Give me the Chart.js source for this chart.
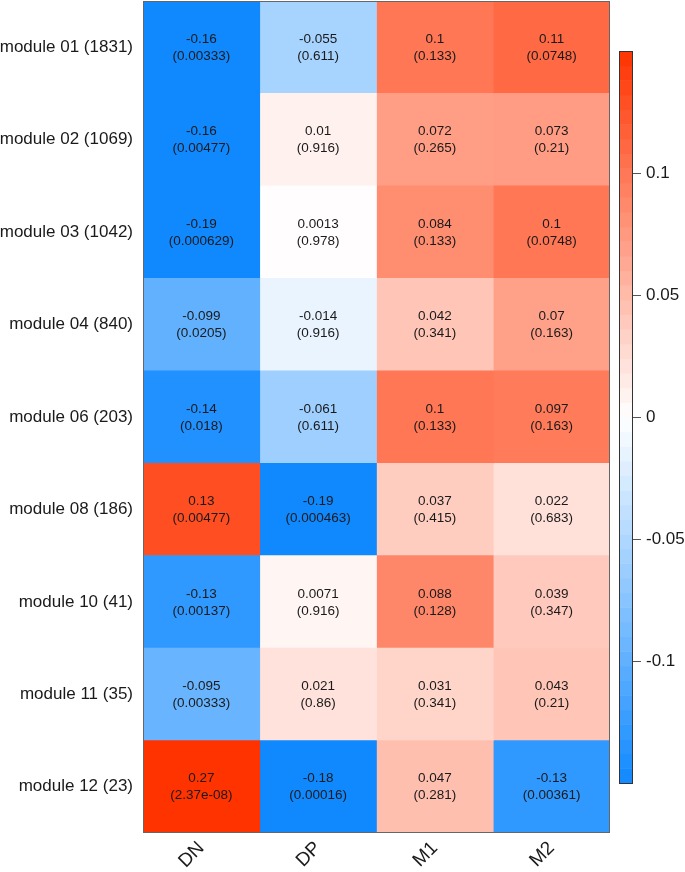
<!DOCTYPE html>
<html lang="en">
<head>
    <meta charset="UTF-8">
    <title>Module correlation heatmap</title>
    <style>
        html, body {
            margin: 0;
            padding: 0;
            background: #fff;
        }
        #wrap {
            width: 685px;
            height: 872px;
        }
    </style>
</head>
<body>
<div id="wrap"><canvas id="heat" width="685" height="872"></canvas></div>

<script src="https://cdn.jsdelivr.net/npm/chart.js"></script>
<script>
    const rowLabels = ['module 01 (1831)', 'module 02 (1069)', 'module 03 (1042)', 'module 04 (840)',
        'module 06 (203)', 'module 08 (186)', 'module 10 (41)', 'module 11 (35)', 'module 12 (23)'];
    const colLabels = ['DN', 'DP', 'M1', 'M2'];

    // correlation per column (one value per module)
    const corDN = [-0.16, -0.16, -0.19, -0.099, -0.14, 0.13, -0.13, -0.095, 0.27];
    const corDP = [-0.055, 0.01, 0.0013, -0.014, -0.061, -0.19, 0.0071, 0.021, -0.18];
    const corM1 = [0.1, 0.072, 0.084, 0.042, 0.1, 0.037, 0.088, 0.031, 0.047];
    const corM2 = [0.11, 0.073, 0.1, 0.07, 0.097, 0.022, 0.039, 0.043, -0.13];

    // p-values shown in brackets
    const pDN = [0.00333, 0.00477, 0.000629, 0.0205, 0.018, 0.00477, 0.00137, 0.00333, 2.37e-08];
    const pDP = [0.611, 0.916, 0.978, 0.916, 0.611, 0.000463, 0.916, 0.86, 0.00016];
    const pM1 = [0.133, 0.265, 0.133, 0.341, 0.133, 0.415, 0.128, 0.341, 0.281];
    const pM2 = [0.0748, 0.21, 0.0748, 0.163, 0.163, 0.683, 0.347, 0.21, 0.00361];

    const legendTicks = [-0.1, -0.05, 0, 0.05, 0.1];
    const colorLimit = 0.15;

    const corCols = [corDN, corDP, corM1, corM2];
    const pCols = [pDN, pDP, pM1, pM2];

    const FONT = '"Liberation Sans", Arial, sans-serif';
    const LOW = [16, 137, 255];
    const HIGH = [255, 51, 0];

    function colorFor(v) {
        let t = Math.max(-1, Math.min(1, v / colorLimit));
        const end = t < 0 ? LOW : HIGH;
        t = Math.abs(t);
        const c = end.map(e => Math.round(255 + (e - 255) * t));
        return `rgb(${c[0]},${c[1]},${c[2]})`;
    }

    function fmtP(p) {
        if (p < 1e-4) {
            return p.toExponential(2).replace(/e-(\d)$/, 'e-0$1');
        }
        return String(p);
    }

    // the layout is fixed, so drop the label overhang chart.js reserves
    function noPad(axis) {
        axis.paddingTop = 0;
        axis.paddingBottom = 0;
        axis.paddingLeft = 0;
        axis.paddingRight = 0;
    }

    const datasets = colLabels.map((name, c) => ({
        label: name,
        data: rowLabels.map(() => [c, c + 1]),
        backgroundColor: corCols[c].map(colorFor),
        borderWidth: 0,
        barPercentage: 1,
        categoryPercentage: 1,
        grouped: false
    }));

    // numbers inside each cell + frame
    const cellText = {
        id: 'cellText',
        afterDatasetsDraw(chart) {
            const ctx = chart.ctx;
            ctx.save();
            ctx.fillStyle = '#1a1a1a';
            ctx.font = '13.5px ' + FONT;
            ctx.textAlign = 'center';
            ctx.textBaseline = 'middle';
            chart.data.datasets.forEach((ds, c) => {
                chart.getDatasetMeta(c).data.forEach((el, r) => {
                    const cx = (el.x + el.base) / 2;
                    ctx.fillText(String(corCols[c][r]), cx, el.y - 8);
                    ctx.fillText('(' + fmtP(pCols[c][r]) + ')', cx, el.y + 9);
                });
            });
            const a = chart.chartArea;
            ctx.strokeStyle = '#666';
            ctx.lineWidth = 1;
            ctx.strokeRect(a.left + 0.5, a.top + 0.5, a.right - a.left - 1, a.bottom - a.top - 1);
            ctx.restore();
        }
    };

    // colour key on the right, drawn against the 'cb' scale
    const colorKey = {
        id: 'colorKey',
        afterDraw(chart) {
            const ctx = chart.ctx;
            const s = chart.scales.cb;
            const x0 = 619, w = 13;
            const steps = 50;
            ctx.save();
            for (let i = 0; i < steps; i++) {
                const v0 = -colorLimit + (2 * colorLimit) * i / steps;
                const v1 = -colorLimit + (2 * colorLimit) * (i + 1) / steps;
                const yA = s.getPixelForValue(v0);
                const yB = s.getPixelForValue(v1);
                ctx.fillStyle = colorFor((v0 + v1) / 2);
                ctx.fillRect(x0, yB, w, yA - yB + 0.5);
            }
            const top = s.getPixelForValue(colorLimit);
            const bot = s.getPixelForValue(-colorLimit);
            ctx.strokeStyle = '#333';
            ctx.lineWidth = 1;
            ctx.strokeRect(x0 + 0.5, Math.round(top) + 0.5, w, Math.round(bot - top));
            ctx.strokeStyle = '#555';
            legendTicks.forEach(v => {
                const y = Math.round(s.getPixelForValue(v)) + 0.5;
                ctx.beginPath();
                ctx.moveTo(x0 + w + 1, y);
                ctx.lineTo(x0 + w + 9, y);
                ctx.stroke();
            });
            ctx.restore();
        }
    };

    new Chart(document.getElementById('heat'), {
        type: 'bar',
        data: { labels: rowLabels, datasets: datasets },
        options: {
            indexAxis: 'y',
            responsive: false,
            animation: false,
            layout: { padding: { top: 1, left: 0, right: 0, bottom: 0 } },
            plugins: {
                legend: { display: false },
                tooltip: { enabled: false }
            },
            scales: {
                x: {
                    type: 'linear',
                    min: 0,
                    max: colLabels.length,
                    grid: { display: false, drawTicks: false },
                    border: { display: false },
                    afterBuildTicks: axis => {
                        axis.ticks = colLabels.map((_, i) => ({ value: i + 0.5 }));
                    },
                    afterFit: axis => { axis.height = 39; noPad(axis); },
                    ticks: {
                        autoSkip: false,
                        minRotation: 45,
                        maxRotation: 45,
                        padding: 4,
                        color: '#1a1a1a',
                        font: { family: FONT, size: 19 },
                        callback: (v, i) => colLabels[i]
                    }
                },
                y: {
                    type: 'category',
                    offset: true,
                    grid: { display: false, drawTicks: false },
                    border: { display: false },
                    afterFit: axis => { axis.width = 143; noPad(axis); },
                    ticks: {
                        padding: 10,
                        color: '#1a1a1a',
                        font: { family: FONT, size: 17 }
                    }
                },
                cb: {
                    axis: 'y',
                    type: 'linear',
                    position: 'right',
                    offset: false,
                    bounds: 'data',
                    min: -0.1705,
                    max: 0.1705,
                    grid: { display: false, drawTicks: false, offset: false },
                    border: { display: false },
                    afterBuildTicks: axis => {
                        axis.ticks = legendTicks.map(v => ({ value: v }));
                    },
                    afterFit: axis => { axis.width = 75; noPad(axis); },
                    ticks: {
                        padding: 36,
                        color: '#1a1a1a',
                        font: { family: FONT, size: 17 },
                        callback: v => String(v)
                    }
                }
            }
        },
        plugins: [cellText, colorKey]
    });
</script>
</body>
</html>
